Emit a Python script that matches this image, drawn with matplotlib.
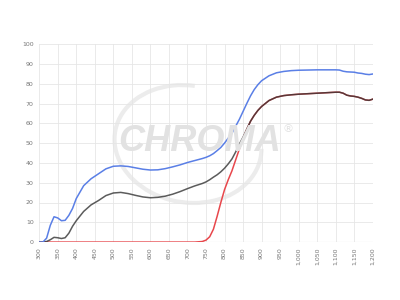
import matplotlib
matplotlib.use("Agg")
import matplotlib.pyplot as plt
from matplotlib.patches import Arc

wavelengths = [300, 310, 320, 330, 340, 350, 360, 370, 380, 390, 400, 420, 440, 460, 480,
               500, 520, 540, 560, 580, 600, 620, 640, 660, 680, 700, 720, 740, 750, 760,
               770, 780, 790, 800, 810, 820, 830, 840, 850, 860, 870, 880, 890, 900, 920,
               940, 960, 980, 1000, 1050, 1100, 1110, 1120, 1130, 1140, 1150, 1160, 1170,
               1180, 1190, 1200]

blue_values = [0, 0, 2, 8.5, 12.8, 12.2, 10.8, 11, 13.5, 17, 22, 28.5, 32, 34.5, 37,
               38.3, 38.5, 38.2, 37.5, 36.8, 36.4, 36.5, 37.1, 38, 39, 40.2, 41.2, 42.2, 42.8, 43.6,
               44.7, 46.2, 47.8, 50, 52.5, 55, 58.5, 62, 66, 70, 73.8, 77, 79.5, 81.5, 84,
               85.5, 86.2, 86.6, 86.8, 87, 87, 86.9, 86.3, 86, 85.9, 85.8, 85.4, 85.2,
               84.8, 84.6, 84.9]

black_values = [0, 0, 0.3, 1.2, 2.4, 2.2, 1.8, 2.2, 4.5, 8, 10.8, 15.5, 18.8, 21, 23.5,
                24.8, 25.1, 24.5, 23.6, 22.8, 22.4, 22.6, 23.2, 24.2, 25.5, 27, 28.4, 29.6, 30.4, 31.5,
                32.8, 34, 35.5, 37.3, 39.5, 42, 45.5, 49.5, 53, 57, 61, 64, 66.5, 68.5, 71.5,
                73.2, 74, 74.4, 74.7, 75.2, 75.7, 75.7, 75.2, 74.2, 73.8, 73.6, 73.2, 72.6,
                71.8, 71.6, 72.2]

red_values = [0, 0, 0, 0, 0, 0, 0, 0, 0, 0, 0, 0, 0, 0, 0,
              0, 0, 0, 0, 0, 0, 0, 0, 0, 0, 0, 0, 0.3, 1, 2.7,
              6.5, 13, 20, 26.5, 31.5, 36, 41.5, 47, 52.5, 57, 61, 64, 66.5, 68.5, 71.5,
              73.2, 74, 74.4, 74.7, 75.2, 75.7, 75.7, 75.2, 74.2, 73.8, 73.6, 73.2, 72.6,
              71.8, 71.6, 72.2]

x_ticks = list(range(300, 1201, 50))
x_tick_labels = [f"{v:,}" for v in x_ticks]
y_ticks = list(range(0, 101, 10))

fig = plt.figure(figsize=(4, 3), dpi=100)
ax = fig.add_axes([0.098, 0.193, 0.834, 0.66])
ax.set_xlim(300, 1200)
ax.set_ylim(0, 100)

# watermark
fig.text(0.5, 0.527, "CHROMA", ha="center", va="center", fontsize=26,
         fontweight="bold", fontstyle="italic", family="Liberation Sans",
         color="#e2e2e2", zorder=0)
fig.text(0.72, 0.57, "®", ha="center", va="center", fontsize=8,
         color="#e2e2e2", zorder=0)
arc = Arc((0.47, 0.52), 0.36, 0.40, angle=25, theta1=60, theta2=330,
          transform=fig.transFigure, color="#ececec", lw=3, zorder=0)
fig.add_artist(arc)
ax.patch.set_alpha(0)

ax.plot(wavelengths, red_values, color="#e8474c", lw=1.1, zorder=3)
ax.plot(wavelengths, black_values, color="#333333", lw=1.1, alpha=0.8, zorder=4)
ax.plot(wavelengths, blue_values, color="#5a7fe6", lw=1.1, zorder=5)

ax.set_xticks(x_ticks)
ax.set_xticklabels(x_tick_labels, rotation=90)
ax.set_yticks(y_ticks)
ax.tick_params(axis="both", length=0, labelsize=4.5, labelcolor="#777777", pad=4)
ax.grid(True, color="#e6e6e6", lw=0.6)
ax.set_axisbelow(True)
for s in ax.spines.values():
    s.set_visible(False)
ax.axhline(0, color="#d0d0d0", lw=0.8, zorder=1)

fig.savefig("out.png", dpi=100)
